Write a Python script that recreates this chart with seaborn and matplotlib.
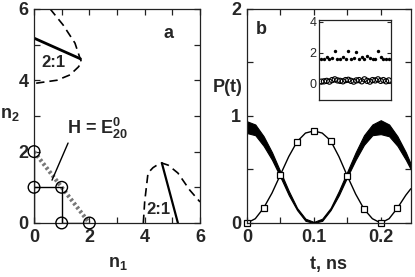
import numpy as np
import pandas as pd
import matplotlib
matplotlib.use("Agg")
import matplotlib.pyplot as plt
from matplotlib.ticker import MultipleLocator
import seaborn as sns

# -----------------------------
# Data
# -----------------------------
# panel a: level lattice points and resonance curves
lattice_n1 = [0, 0, 1, 1, 2]
lattice_n2 = [2, 1, 1, 0, 0]
path_n1 = [0, 1, 1, 2]
path_n2 = [1, 1, 0, 0]
shell_n1 = [0, 2]
shell_n2 = [2, 0]

res_top_n1 = [0.58, 1.05, 1.48, 1.66, 1.72, 1.6, 1.3, 0.83, 0.1, 0.0]
res_top_n2 = [6.0, 5.55, 5.04, 4.62, 4.5, 4.37, 4.15, 4.0, 3.92, 3.92]
line_top_n1 = [0.0, 1.68]
line_top_n2 = [5.18, 4.6]

res_bot_n1 = [3.95, 4.0, 4.12, 4.3, 4.44, 4.62, 4.85, 5.2, 5.63, 6.0]
res_bot_n2 = [0.0, 0.6, 1.4, 1.55, 1.62, 1.68, 1.62, 1.4, 0.92, 0.59]
line_bot_n1 = [4.62, 5.2]
line_bot_n2 = [1.68, 0.0]

# panel b: populations vs time
t_ns = [0.0, 0.0125, 0.025, 0.0375, 0.05, 0.0625, 0.075, 0.0875, 0.1, 0.1125,
        0.125, 0.1375, 0.15, 0.1625, 0.175, 0.1875, 0.2, 0.2125, 0.225, 0.2375, 0.245]
p_thin = [0.0, 0.04, 0.14, 0.28, 0.45, 0.62, 0.76, 0.84, 0.86, 0.84,
          0.77, 0.62, 0.44, 0.27, 0.13, 0.04, 0.0, 0.04, 0.14, 0.26, 0.32]
p_band_hi = [0.95, 0.92, 0.81, 0.66, 0.48, 0.30, 0.14, 0.04, 0.01, 0.04,
             0.14, 0.30, 0.48, 0.66, 0.82, 0.92, 0.96, 0.92, 0.81, 0.66, 0.55]
p_band_lo = [0.84, 0.82, 0.72, 0.59, 0.43, 0.26, 0.12, 0.02, 0.0, 0.02,
             0.12, 0.26, 0.43, 0.59, 0.73, 0.82, 0.83, 0.81, 0.72, 0.59, 0.50]
square_idx = [0, 2, 4, 6, 8, 10, 12, 14, 16, 18]

# inset: two noisy rows
inset_x = list(range(26))
inset_dots = [1.55, 1.6, 1.7, 1.55, 1.65, 2.1, 1.6, 1.55, 1.7, 1.6, 2.1, 1.6, 1.65,
              2.05, 1.55, 1.7, 1.6, 1.75, 1.65, 1.6, 1.55, 2.1, 1.7, 1.6, 1.55, 1.6]
inset_circ = [0.1, 0.12, 0.15, 0.1, 0.2, 0.25, 0.18, 0.15, 0.12, 0.2, 0.22, 0.15, 0.1,
              0.18, 0.2, 0.12, 0.25, 0.15, 0.1, 0.2, 0.18, 0.25, 0.15, 0.2, 0.12, 0.18]

# -----------------------------
# Style
# -----------------------------
sns.set_theme(style="ticks")
plt.rcParams["font.family"] = ["Liberation Sans", "DejaVu Sans"]
plt.rcParams["font.weight"] = "bold"
plt.rcParams["mathtext.fontset"] = "custom"
plt.rcParams["mathtext.bf"] = "Liberation Sans:bold"
plt.rcParams["mathtext.rm"] = "Liberation Sans:bold"
plt.rcParams["mathtext.default"] = "bf"

fig = plt.figure(figsize=(4.15, 2.77), dpi=100)
ax_a = fig.add_axes([0.082, 0.195, 0.400, 0.773])
ax_b = fig.add_axes([0.595, 0.195, 0.395, 0.773])


def style_axes(ax, size=13, weight="bold"):
    for s in ax.spines.values():
        s.set_linewidth(0.9)
        s.set_color("#222222")
    ax.tick_params(which="both", direction="in", top=True, right=True,
                   length=4, width=0.9, color="#222222", labelsize=size, pad=4)
    for lab in ax.get_xticklabels() + ax.get_yticklabels():
        lab.set_fontweight(weight)


# -----------------------------
# Panel a
# -----------------------------
ax_a.plot(shell_n1, shell_n2, color="#777777", lw=3, ls=(0, (0.6, 0.6)))
ax_a.plot(path_n1, path_n2, color="black", lw=1.0)
ax_a.plot([0, 0], [0, 2], color="black", lw=1.0)
sns.scatterplot(x=lattice_n1, y=lattice_n2, ax=ax_a, s=70, marker="o",
                facecolor="none", edgecolor="black", linewidth=1.0, zorder=5,
                clip_on=False)
ax_a.plot(res_top_n1, res_top_n2, color="black", lw=1.2, ls=(0, (5, 3)))
ax_a.plot(line_top_n1, line_top_n2, color="black", lw=2.0)
ax_a.plot(res_bot_n1, res_bot_n2, color="black", lw=1.2, ls=(0, (5, 3)))
ax_a.plot(line_bot_n1, line_bot_n2, color="black", lw=1.6)
ax_a.plot([0.65, 1.23], [1.2, 2.24], color="black", lw=1.0)

ax_a.text(1.19, 2.66, r"H = E$^{0}_{20}$", fontsize=13, va="center", ha="left")
ax_a.text(0.7, 4.5, "2:1", fontsize=12, ha="center", va="center")
ax_a.text(4.5, 0.37, "2:1", fontsize=12, ha="center", va="center")
ax_a.text(4.85, 5.3, "a", fontsize=13, ha="center", va="center")

ax_a.set_xlim(0, 6)
ax_a.set_ylim(0, 6)
ax_a.xaxis.set_major_locator(MultipleLocator(2))
ax_a.xaxis.set_minor_locator(MultipleLocator(1))
ax_a.yaxis.set_major_locator(MultipleLocator(2))
ax_a.yaxis.set_minor_locator(MultipleLocator(1))
style_axes(ax_a)

# -----------------------------
# Panel b
# -----------------------------
ax_b.fill_between(t_ns, p_band_lo, p_band_hi, color="black", lw=0.8, edgecolor="black")
sns.lineplot(x=t_ns, y=p_thin, ax=ax_b, color="black", lw=1.0, marker="s",
             markersize=5, markerfacecolor="white", markeredgecolor="black",
             markeredgewidth=0.9, markevery=square_idx, clip_on=False)
ax_b.text(0.022, 1.81, "b", fontsize=13, ha="center", va="center")

ax_b.set_xlim(0, 0.245)
ax_b.set_ylim(0, 2)
ax_b.xaxis.set_major_locator(MultipleLocator(0.1))
ax_b.xaxis.set_minor_locator(MultipleLocator(0.05))
ax_b.yaxis.set_major_locator(MultipleLocator(1))
ax_b.yaxis.set_minor_locator(MultipleLocator(0.5))
ax_b.set_xticks([0, 0.1, 0.2])
ax_b.set_xticklabels(["0", "0.1", "0.2"])
style_axes(ax_b)

# inset
ax_in = fig.add_axes([0.769, 0.639, 0.173, 0.289])
sns.scatterplot(x=inset_x, y=inset_dots, ax=ax_in, s=6, color="black",
                edgecolor="black", linewidth=0)
sns.scatterplot(x=inset_x, y=inset_circ, ax=ax_in, s=14, marker="o",
                facecolor="none", edgecolor="black", linewidth=0.8)
ax_in.set_xlim(-0.8, 25.8)
ax_in.set_ylim(-1.1, 4.13)
ax_in.set_yticks([0, 2, 4])
ax_in.set_xticks([])
for s in ax_in.spines.values():
    s.set_linewidth(0.9)
    s.set_color("#222222")
ax_in.tick_params(axis="y", direction="in", right=True, length=3, width=0.8,
                  labelsize=9, pad=2)
for lab in ax_in.get_yticklabels():
    lab.set_fontweight("normal")

# axis labels as placed in the reference
fig.text(10 / 415, 1 - 114 / 277, r"n$_{2}$", fontsize=13, ha="center", va="center")
fig.text(118 / 415, 1 - 263 / 277, r"n$_{1}$", fontsize=13, ha="center", va="center")
fig.text(228 / 415, 1 - 87 / 277, "P(t)", fontsize=13, ha="center", va="center")
fig.text(328 / 415, 1 - 264 / 277, "t, ns", fontsize=13, ha="center", va="center")

fig.savefig("out.png", dpi=100)
plt.close(fig)
